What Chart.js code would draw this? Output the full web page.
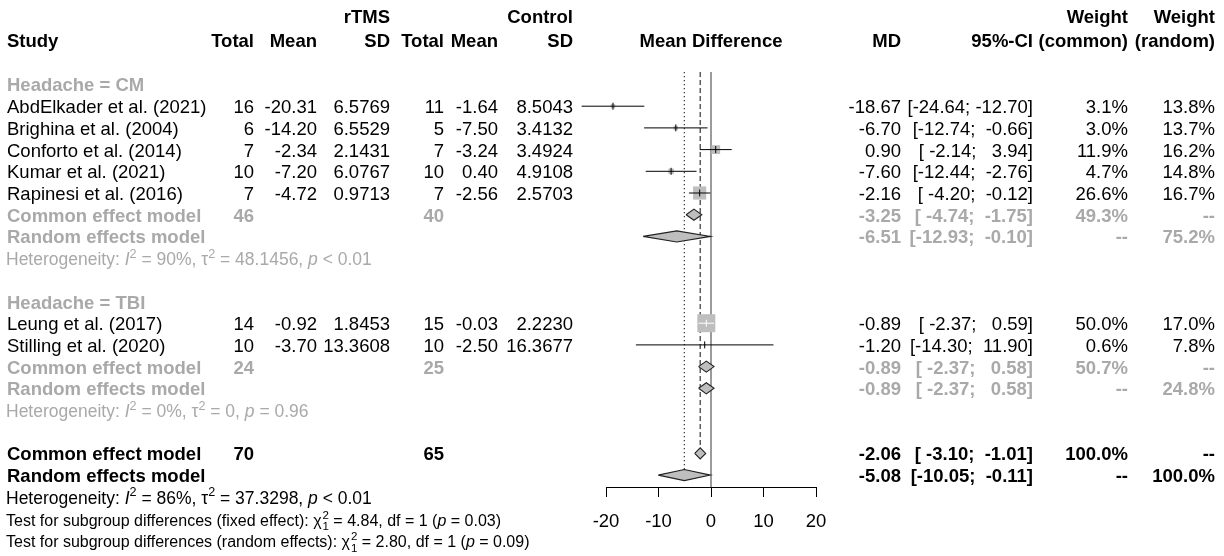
<!DOCTYPE html>
<html><head><meta charset="utf-8">
<script src="https://cdn.jsdelivr.net/npm/chart.js@4"></script>
<style>html,body{margin:0;padding:0;background:#fff}#wrap{width:1224px;height:556px}</style>
</head><body><div id="wrap"><canvas id="c" width="1224" height="556"></canvas></div>
<script>
// ---------------- DATA ----------------
const studies = ["AbdElkader et al. (2021)","Brighina et al. (2004)","Conforto et al. (2014)","Kumar et al. (2021)","Rapinesi et al. (2016)","Leung et al. (2017)","Stilling et al. (2020)"];
const groups = ["Headache = CM","Headache = TBI"];
const rtmsTotal = [16,6,7,10,7,14,10];
const rtmsMean = [-20.31,-14.20,-2.34,-7.20,-4.72,-0.92,-3.70];
const rtmsSD = [6.5769,6.5529,2.1431,6.0767,0.9713,1.8453,13.3608];
const ctrlTotal = [11,5,7,10,7,15,10];
const ctrlMean = [-1.64,-7.50,-3.24,0.40,-2.56,-0.03,-2.50];
const ctrlSD = [8.5043,3.4132,3.4924,4.9108,2.5703,2.2230,16.3677];
const md = [-18.67,-6.70,0.90,-7.60,-2.16,-0.89,-1.20];
const ciLow = [-24.64,-12.74,-2.14,-12.44,-4.20,-2.37,-14.30];
const ciHigh = [-12.70,-0.66,3.94,-2.76,-0.12,0.59,11.90];
const wCommon = [3.1,3.0,11.9,4.7,26.6,50.0,0.6];
const wRandom = [13.8,13.7,16.2,14.8,16.7,17.0,7.8];

const sumLabels = ["Common effect model","Random effects model","Common effect model","Random effects model","Common effect model","Random effects model"];
const sumRtmsTotal = ["46","","24","","70",""];
const sumCtrlTotal = ["40","","25","","65",""];
const sumMD = [-3.25,-6.51,-0.89,-0.89,-2.06,-5.08];
const sumLow = [-4.74,-12.93,-2.37,-2.37,-3.10,-10.05];
const sumHigh = [-1.75,-0.10,0.58,0.58,-1.01,-0.11];
const sumWCommon = ["49.3%","--","50.7%","--","100.0%","--"];
const sumWRandom = ["--","75.2%","--","24.8%","--","100.0%"];

const hetI2 = ["90%","0%","86%"];
const hetTau2 = ["48.1456","0","37.3298"];
const hetP = ["< 0.01","= 0.96","< 0.01"];
const testLabel = ["fixed effect","random effects"];
const testChi2 = ["4.84","2.80"];
const testDf = ["1","1"];
const testP = ["0.03","0.09"];

const xTicks = [-20,-10,0,10,20];

// ---------------- LAYOUT ----------------
const studyRows = [1,2,3,4,5,11,12];
const groupRows = [0,10];
const sumRows = [6,7,13,14,17,18];
const sumGray = [true,true,true,true,false,false];
const hetRows = [8,15,19];
const hetGray = [true,true,false];
const testRows = [20,21];
const headRows = [-3.16,-2.05];
const COL = {study:7, rT:254, rM:317, rS:390, cT:444, cM:498, cS:573, mdHead:711, md:901, ci:1033, wc:1128, wr:1215};
const FONT = '"Liberation Sans", Arial, Helvetica, sans-serif';
const FS = 18.5, FS_HET = 17.5, FS_TEST = 16;
const GRAY = '#A9A9A9', BOX = '#BEBEBE';
const DIAM_H = 0.255;

const fmt = (v,d) => v.toFixed(d);
const pad = (s,n) => s.length >= n ? s : ' '.repeat(n - s.length) + s;
const loStr = ciLow.concat(sumLow).map(v=>fmt(v,2));
const hiStr = ciHigh.concat(sumHigh).map(v=>fmt(v,2));
const wLo = Math.max(...loStr.map(s=>s.length)), wHi = Math.max(...hiStr.map(s=>s.length));
const ciText = (lo,hi) => '[' + pad(fmt(lo,2),wLo) + '; ' + pad(fmt(hi,2),wHi) + ']';

// ---------------- DATASETS ----------------
const datasets = [];
// estimate ticks
datasets.push({
  data: md.map((v,i)=>({x:v, y:studyRows[i]})),
  pointStyle:'line', rotation:90, pointRadius:3.5, pointHoverRadius:3.5,
  borderColor: wCommon.map(w => w >= 50 ? '#fff' : '#000'),
  borderWidth:1, showLine:false, clip:false
});
// CI lines
studies.forEach((s,i)=>{
  datasets.push({
    data:[{x:ciLow[i], y:studyRows[i]},{x:ciHigh[i], y:studyRows[i]}],
    showLine:true, pointRadius:0, borderWidth:1,
    borderColor: wCommon[i] >= 50 ? '#fff' : '#000', clip:false
  });
});
// squares
datasets.push({
  data: md.map((v,i)=>({x:v, y:studyRows[i]})),
  pointStyle:'rect', pointRadius: wCommon.map(w=>1.8*Math.sqrt(w)),
  backgroundColor: BOX, borderWidth:0, showLine:false, clip:false
});
// diamonds
sumMD.forEach((m,i)=>{
  const r = sumRows[i];
  datasets.push({
    data:[{x:sumLow[i],y:r},{x:m,y:r-DIAM_H},{x:sumHigh[i],y:r},{x:m,y:r+DIAM_H},{x:sumLow[i],y:r}],
    showLine:true, pointRadius:0, borderWidth:1.1, borderColor:'#222',
    backgroundColor: BOX, fill:'shape', tension:0, clip:false
  });
});
// reference lines
const Y0 = -0.576, Y1 = 18.548;
datasets.push({data:[{x:0,y:Y0},{x:0,y:Y1}], showLine:true, pointRadius:0, borderWidth:1.3, borderColor:'#666', clip:false});
datasets.push({data:[{x:sumMD[4],y:Y0},{x:sumMD[4],y:sumRows[4]-DIAM_H}], showLine:true, pointRadius:0, borderWidth:1.1, borderColor:'#222', borderDash:[5,3], clip:false});
datasets.push({data:[{x:sumMD[5],y:Y0},{x:sumMD[5],y:sumRows[5]-DIAM_H}], showLine:true, pointRadius:0, borderWidth:1.1, borderColor:'#222', borderDash:[1.3,2.7], clip:false});

// ---------------- TEXT PLUGIN ----------------
function drawRich(ctx, x, y, segs, size, color, bold) {
  let cx = x;
  ctx.fillStyle = color; ctx.textAlign = 'left';
  for (const s of segs) {
    if (s.ss) {
      ctx.font = `${size*0.72}px ${FONT}`;
      ctx.fillText(s.ss[0], cx+1, y - size*0.42);
      ctx.fillText(s.ss[1], cx+1, y + size*0.3);
      cx += Math.max(ctx.measureText(s.ss[0]).width, ctx.measureText(s.ss[1]).width) + 1;
      continue;
    }
    const sz = s.sup ? size*0.72 : size;
    ctx.font = `${s.it?'italic ':''}${bold?'bold ':''}${sz}px ${FONT}`;
    ctx.fillText(s.t, cx, y + (s.sup ? -size*0.42 : 0));
    cx += ctx.measureText(s.t).width;
  }
}
const textPlugin = {
  id:'forestText',
  afterDraw(chart){
    const ctx = chart.ctx, ys = chart.scales.y;
    const by = r => ys.getPixelForValue(r) + 7;
    const txt = (t,x,y,align,color,bold,size) => {
      ctx.font = `${bold?'bold ':''}${size||FS}px ${FONT}`;
      ctx.fillStyle = color; ctx.textAlign = align; ctx.fillText(t,x,y);
    };
    ctx.save(); ctx.textBaseline = 'alphabetic';
    // headers
    const h1 = by(headRows[0]), h2 = by(headRows[1]);
    txt('rTMS',COL.rS,h1,'right','#000',true);
    txt('Control',COL.cS,h1,'right','#000',true);
    txt('Weight',COL.wc,h1,'right','#000',true);
    txt('Weight',COL.wr,h1,'right','#000',true);
    txt('Study',COL.study,h2,'left','#000',true);
    txt('Total',COL.rT,h2,'right','#000',true);
    txt('Mean',COL.rM,h2,'right','#000',true);
    txt('SD',COL.rS,h2,'right','#000',true);
    txt('Total',COL.cT,h2,'right','#000',true);
    txt('Mean',COL.cM,h2,'right','#000',true);
    txt('SD',COL.cS,h2,'right','#000',true);
    txt('Mean Difference',COL.mdHead,h2,'center','#000',true);
    txt('MD',COL.md,h2,'right','#000',true);
    txt('95%-CI',COL.ci,h2,'right','#000',true);
    txt('(common)',COL.wc,h2,'right','#000',true);
    txt('(random)',COL.wr,h2,'right','#000',true);
    // group headers
    groups.forEach((g,i)=>txt(g,COL.study,by(groupRows[i]),'left',GRAY,true));
    // studies
    studies.forEach((s,i)=>{
      const y = by(studyRows[i]);
      txt(s,COL.study,y,'left','#000',false);
      txt(String(rtmsTotal[i]),COL.rT,y,'right','#000');
      txt(fmt(rtmsMean[i],2),COL.rM,y,'right','#000');
      txt(fmt(rtmsSD[i],4),COL.rS,y,'right','#000');
      txt(String(ctrlTotal[i]),COL.cT,y,'right','#000');
      txt(fmt(ctrlMean[i],2),COL.cM,y,'right','#000');
      txt(fmt(ctrlSD[i],4),COL.cS,y,'right','#000');
      txt(fmt(md[i],2),COL.md,y,'right','#000');
      txt(ciText(ciLow[i],ciHigh[i]),COL.ci,y,'right','#000');
      txt(fmt(wCommon[i],1)+'%',COL.wc,y,'right','#000');
      txt(fmt(wRandom[i],1)+'%',COL.wr,y,'right','#000');
    });
    // summaries
    sumLabels.forEach((s,i)=>{
      const y = by(sumRows[i]), c = sumGray[i] ? GRAY : '#000';
      txt(s,COL.study,y,'left',c,true);
      txt(sumRtmsTotal[i],COL.rT,y,'right',c,true);
      txt(sumCtrlTotal[i],COL.cT,y,'right',c,true);
      txt(fmt(sumMD[i],2),COL.md,y,'right',c,true);
      txt(ciText(sumLow[i],sumHigh[i]),COL.ci,y,'right',c,true);
      txt(sumWCommon[i],COL.wc,y,'right',c,true);
      txt(sumWRandom[i],COL.wr,y,'right',c,true);
    });
    // heterogeneity
    hetRows.forEach((r,i)=>{
      drawRich(ctx,COL.study-1,by(r),[
        {t:'Heterogeneity: '},{t:'I',it:true},{t:'2',sup:true},{t:' = '+hetI2[i]+', '},
        {t:'\u03C4'},{t:'2',sup:true},{t:' = '+hetTau2[i]+', '},{t:'p',it:true},{t:' '+hetP[i]}
      ],FS_HET,hetGray[i]?GRAY:'#000',false);
    });
    testRows.forEach((r,i)=>{
      drawRich(ctx,COL.study-1,by(r),[
        {t:'Test for subgroup differences ('+testLabel[i]+'): '},{t:'\u03C7'},{ss:['2','1']},
        {t:' = '+testChi2[i]+', df = '+testDf[i]+' ('},{t:'p',it:true},{t:' = '+testP[i]+')'}
      ],FS_TEST,'#000',false);
    });
    ctx.restore();
  }
};

new Chart(document.getElementById('c'), {
  type:'scatter',
  data:{datasets},
  options:{
    responsive:false, animation:false, devicePixelRatio:1,
    events:[],
    layout:{padding:{left:606, right:408, top:72, bottom:9}},
    plugins:{legend:{display:false}, tooltip:{enabled:false}},
    scales:{
      x:{type:'linear', position:'bottom', min:-20, max:20,
        afterBuildTicks: s => { s.ticks = xTicks.map(v=>({value:v})); },
        afterFit: s => { s.height = 60; },
        border:{display:true, color:'#000', width:1},
        grid:{display:true, drawOnChartArea:false, drawTicks:true, tickLength:10, color:'#000', lineWidth:1},
        ticks:{color:'#000', padding:14, font:{family:FONT, size:FS}, maxRotation:0, autoSkip:false}
      },
      y:{type:'linear', display:false, reverse:true, min:Y0, max:Y1}
    }
  },
  plugins:[textPlugin]
});
</script>
</body></html>
